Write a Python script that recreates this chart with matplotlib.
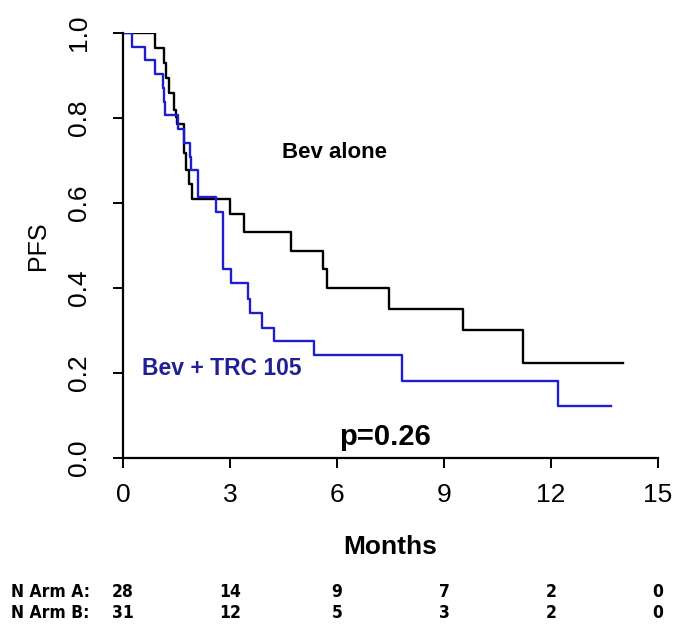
import numpy as np
import matplotlib
matplotlib.use("Agg")
import matplotlib.pyplot as plt
import matplotlib.transforms as mtransforms
from matplotlib import font_manager

plt.rcParams['font.family'] = ['Liberation Sans', 'DejaVu Sans']

# Bev alone (Arm A) KM step data
bev_times = [0, 0.90, 1.15, 1.20, 1.30, 1.43, 1.49, 1.52, 1.72, 1.78, 1.86, 1.93,
             3.00, 3.39, 4.70, 5.60, 5.71, 7.46, 9.52, 11.22]
bev_surv = [1.0, 0.964, 0.930, 0.893, 0.858, 0.820, 0.803, 0.785, 0.717, 0.678, 0.645, 0.609,
            0.573, 0.531, 0.488, 0.444, 0.399, 0.351, 0.301, 0.224]
bev_end = 14.02

# Bev + TRC 105 (Arm B) KM step data
trc_times = [0, 0.24, 0.63, 0.90, 1.11, 1.14, 1.17, 1.55, 1.71, 1.88, 1.90, 2.09,
             2.60, 2.80, 3.03, 3.51, 3.55, 3.89, 4.23, 5.36, 7.81, 12.19]
trc_surv = [1.0, 0.968, 0.936, 0.903, 0.870, 0.838, 0.807, 0.774, 0.742, 0.709, 0.678, 0.613,
            0.580, 0.444, 0.411, 0.374, 0.342, 0.307, 0.275, 0.242, 0.181, 0.122]
trc_end = 13.68

risk_times = [0, 3, 6, 9, 12, 15]
risk_a = [28, 14, 9, 7, 2, 0]
risk_b = [31, 12, 5, 3, 2, 0]

# pick a condensed font if one is installed
names = {(f.name, f.stretch) for f in font_manager.fontManager.ttflist}
table_font = dict(family=['Liberation Sans', 'DejaVu Sans'], fontsize=13)
if any(n == 'Liberation Sans Narrow' for n, s in names):
    table_font = dict(family=['Liberation Sans Narrow', 'DejaVu Sans'], fontsize=14)
elif any(n == 'DejaVu Sans' and s == 'condensed' for n, s in names):
    table_font = dict(family=['DejaVu Sans'], fontstretch='condensed', fontsize=12.5)

fig = plt.figure(figsize=(7, 6.3), dpi=100)
ax = fig.add_axes([123/700, 1-458/630, (658-123)/700, (458-33)/630])

ax.step(np.append(bev_times, bev_end), np.append(bev_surv, bev_surv[-1]),
        where='post', color='black', lw=1.7)
ax.step(np.append(trc_times, trc_end), np.append(trc_surv, trc_surv[-1]),
        where='post', color='#1e1ed0', lw=1.7)

ax.set_xlim(0, 15)
ax.set_ylim(0, 1)
for s in ['top', 'right']:
    ax.spines[s].set_visible(False)
for s in ['left', 'bottom']:
    ax.spines[s].set_linewidth(1.6)

ax.set_xticks(risk_times)
ax.set_yticks([0, 0.2, 0.4, 0.6, 0.8, 1.0])
ax.set_yticklabels(['0.0', '0.2', '0.4', '0.6', '0.8', '1.0'], rotation=90, va='center')
ax.tick_params(axis='both', direction='out', length=7, width=1.4, labelsize=19)
ax.tick_params(axis='y', pad=16)
ax.tick_params(axis='x', pad=11)

ax.set_xlabel('Months', fontsize=19, fontweight='bold', labelpad=20)
ax.set_ylabel('PFS', fontsize=18, labelpad=12)

ax.text(5.94, 0.718, 'Bev alone', fontsize=16, fontweight='bold', ha='center', va='center')
ax.text(2.78, 0.21, 'Bev + TRC 105', fontsize=16.5, fontweight='bold', ha='center', va='center',
        color='#202095')
ax.text(7.35, 0.05, 'p=0.26', fontsize=21, fontweight='bold', ha='center', va='center')

trans = mtransforms.blended_transform_factory(ax.transData, fig.transFigure)
fig.text(11/700, 1-592/630, 'N Arm A:', fontweight='bold', ha='left', va='center', **table_font)
fig.text(11/700, 1-613/630, 'N Arm B:', fontweight='bold', ha='left', va='center', **table_font)
for t, a, b in zip(risk_times, risk_a, risk_b):
    fig.text(t, 1-592/630, str(a), transform=trans, fontweight='bold',
             ha='center', va='center', **table_font)
    fig.text(t, 1-613/630, str(b), transform=trans, fontweight='bold',
             ha='center', va='center', **table_font)

fig.savefig('out.png', dpi=100)
